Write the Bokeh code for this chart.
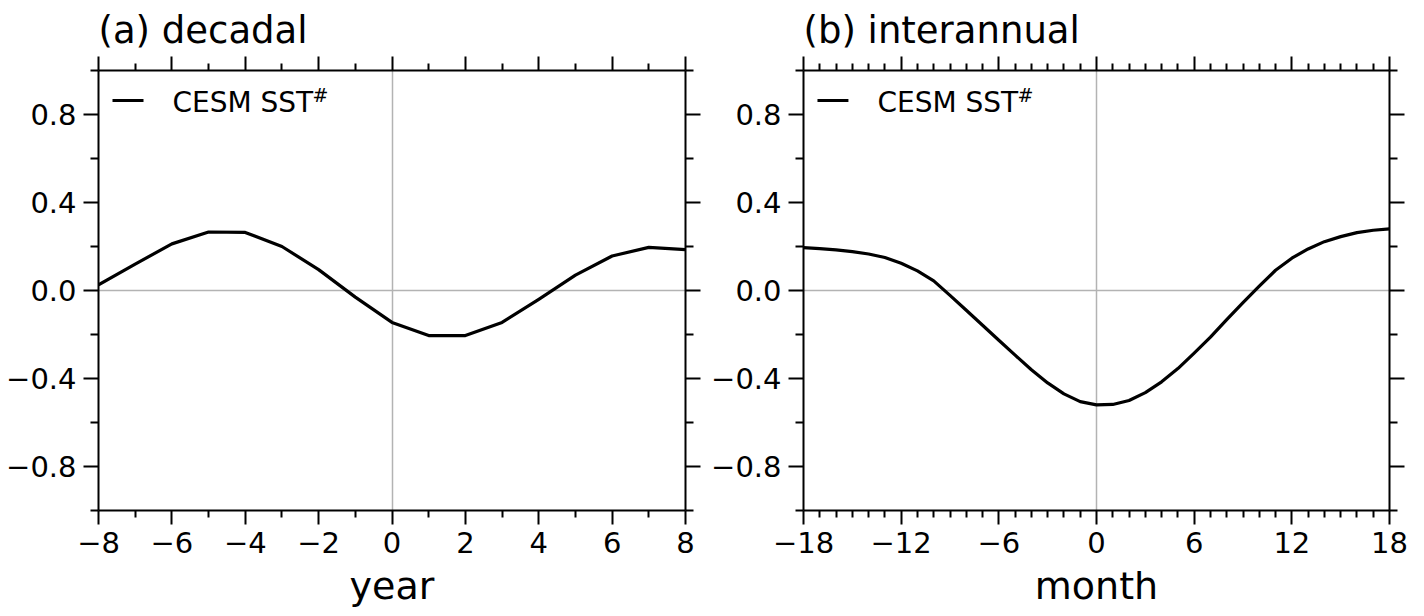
from bokeh.plotting import figure
from bokeh.models import (Range1d, FixedTicker, LinearAxis, CustomJSTickFormatter,
                          Label, BoxAnnotation)
from bokeh.layouts import row
from bokeh.embed import file_html
from bokeh.resources import INLINE

# ---------------- data ----------------
decadal_year = [-8, -7, -6, -5, -4, -3, -2, -1, 0, 1, 2, 3, 4, 5, 6, 7, 8]
decadal_sst = [0.026, 0.12, 0.212, 0.266, 0.264, 0.2, 0.095, -0.03, -0.145,
               -0.205, -0.205, -0.145, -0.04, 0.07, 0.157, 0.196, 0.186]

interannual_month = list(range(-18, 19))
interannual_sst = [0.195, 0.19, 0.185, 0.177, 0.166, 0.15, 0.124, 0.089, 0.044,
                   -0.022, -0.09, -0.158, -0.226, -0.294, -0.36, -0.42, -0.47,
                   -0.505, -0.52, -0.518, -0.5, -0.464, -0.415, -0.355, -0.285,
                   -0.212, -0.132, -0.055, 0.02, 0.092, 0.147, 0.189, 0.222,
                   0.245, 0.263, 0.274, 0.28]

y_major = [-0.8, -0.4, 0.0, 0.4, 0.8]
y_minor = [-1.0, -0.6, -0.2, 0.2, 0.6, 1.0]
dec_major = [-8, -6, -4, -2, 0, 2, 4, 6, 8]
dec_minor = [-7, -5, -3, -1, 1, 3, 5, 7]
int_major = [-18, -12, -6, 0, 6, 12, 18]
int_minor = [m for m in range(-18, 19) if m % 6 != 0]

legend_label = "CESM SST"
legend_sup = "#"

FONT = "DejaVu Sans"
FRAME_W = 587
FRAME_H = 440

fmt_y = CustomJSTickFormatter(code="return tick.toFixed(1).replace('-', '\u2212');")
fmt_x = CustomJSTickFormatter(code="return tick.toFixed(0).replace('-', '\u2212');")
fmt_none = CustomJSTickFormatter(code="return '';")


def style_axis(ax, ticker, major_out, minor_out, labels, formatter):
    ax.ticker = ticker
    ax.axis_line_color = "black"
    ax.axis_line_width = 2
    ax.major_tick_line_color = "black"
    ax.major_tick_line_width = 2
    ax.minor_tick_line_color = "black"
    ax.minor_tick_line_width = 2
    ax.major_tick_in = 0
    ax.minor_tick_in = 0
    ax.major_tick_out = major_out
    ax.minor_tick_out = minor_out
    ax.major_label_text_font = FONT
    ax.major_label_text_color = "black"
    if labels:
        ax.formatter = formatter
        ax.major_label_text_font_size = "29px"
    else:
        ax.formatter = fmt_none
        ax.major_label_text_font_size = "0px"
        ax.major_label_standoff = 0


def make_panel(xs, ys, x0, x1, xmaj, xmin_, title, xlabel, width, bl, br):
    p = figure(width=width, height=616, x_range=Range1d(x0, x1),
               y_range=Range1d(-1, 1), output_backend="svg",
               toolbar_location=None, min_border_left=bl, min_border_right=br,
               min_border_top=70, min_border_bottom=106)
    p.outline_line_color = None
    p.background_fill_color = "white"
    p.border_fill_color = "white"

    xt = FixedTicker(ticks=xmaj, minor_ticks=xmin_)
    yt = FixedTicker(ticks=y_major, minor_ticks=y_minor)

    style_axis(p.xaxis[0], xt, 14, 7, True, fmt_x)
    style_axis(p.yaxis[0], yt, 15, 8, True, fmt_y)
    p.xaxis[0].major_label_standoff = 7
    p.yaxis[0].major_label_standoff = 7
    p.xaxis[0].axis_label = xlabel
    p.xaxis[0].axis_label_text_font = FONT
    p.xaxis[0].axis_label_text_font_size = "38px"
    p.xaxis[0].axis_label_text_font_style = "normal"
    p.xaxis[0].axis_label_text_color = "black"
    p.xaxis[0].axis_label_standoff = 8

    top = LinearAxis()
    style_axis(top, FixedTicker(ticks=xmaj, minor_ticks=xmin_), 14, 7, False, None)
    p.add_layout(top, "above")
    right = LinearAxis()
    style_axis(right, FixedTicker(ticks=y_major, minor_ticks=y_minor), 15, 8, False, None)
    p.add_layout(right, "right")

    p.xgrid.ticker = FixedTicker(ticks=[0])
    p.ygrid.ticker = FixedTicker(ticks=[0])
    for g in (p.xgrid[0], p.ygrid[0]):
        g.grid_line_color = "#b3b3b3"
        g.grid_line_width = 1.5
        g.minor_grid_line_color = None

    p.title.text = title
    p.title.text_font = FONT
    p.title.text_font_size = "37px"
    p.title.text_font_style = "normal"
    p.title.text_color = "black"
    p.title.align = "left"
    p.title.offset = 0
    p.title.standoff = 10

    p.line(xs, ys, line_color="black", line_width=3.2, line_join="round")

    # legend (drawn manually so the superscript can be shown)
    ppx = (x1 - x0) / FRAME_W
    ppy = 2.0 / FRAME_H
    p.add_layout(BoxAnnotation(left=x0 + 14 * ppx, right=x0 + 45 * ppx,
                               top=1 - 28.5 * ppy, bottom=1 - 31.5 * ppy,
                               fill_color="black", fill_alpha=1, line_color=None))
    p.add_layout(Label(x=x0, y=1, x_offset=74, y_offset=-32, text=legend_label,
                       text_font=FONT, text_font_size="28px", text_color="black",
                       text_baseline="alphabetic", text_align="left"))
    p.add_layout(Label(x=x0, y=1, x_offset=214, y_offset=-24, text=legend_sup,
                       text_font=FONT, text_font_size="19px", text_color="black",
                       text_baseline="alphabetic", text_align="left"))
    return p


p1 = make_panel(decadal_year, decadal_sst, -8, 8, dec_major, dec_minor,
                "(a) decadal", "year", 708, 98, 23)
p2 = make_panel(interannual_month, interannual_sst, -18, 18, int_major, int_minor,
                "(b) interannual", "month", 708, 94, 27)

layout = row(p1, p2)
open("out.html", "w").write(file_html(layout, INLINE))
